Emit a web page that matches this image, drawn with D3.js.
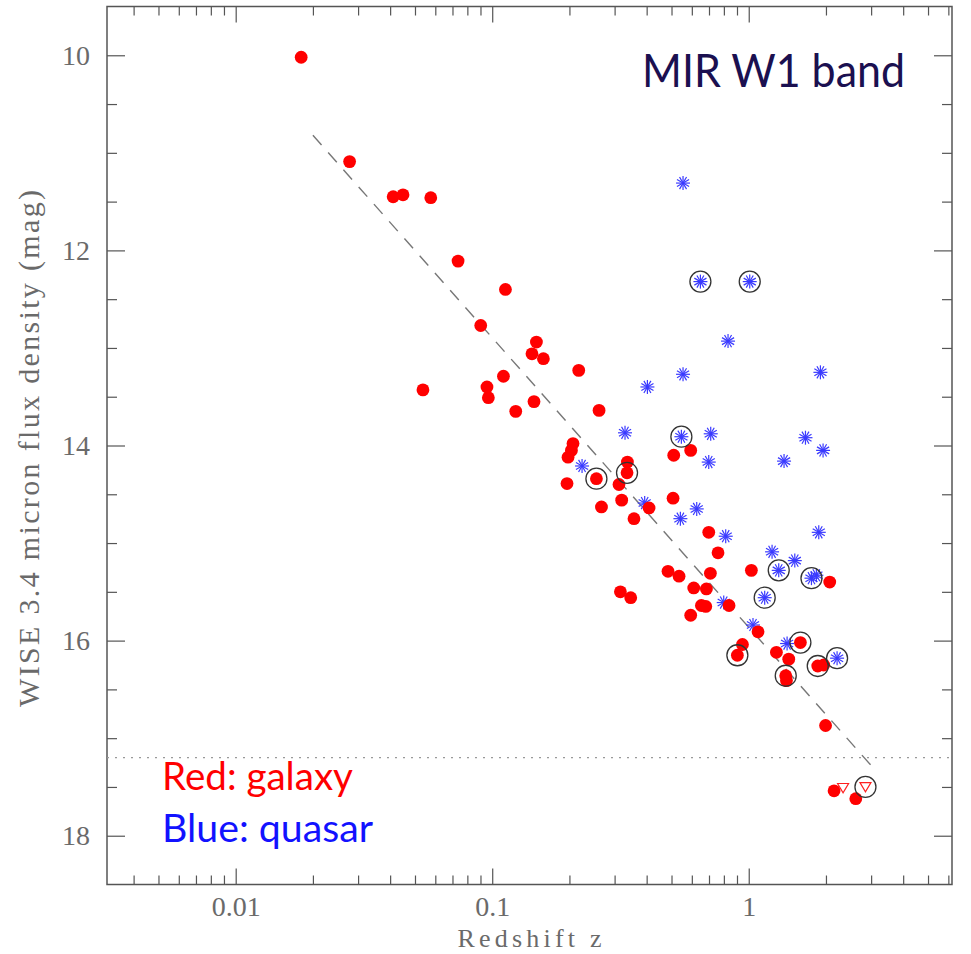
<!DOCTYPE html>
<html>
<head>
<meta charset="utf-8">
<script src="https://cdn.jsdelivr.net/npm/d3@7"></script>
<style>
  html, body { margin: 0; padding: 0; background: #fff; }
  svg { display: block; }
</style>
</head>
<body>
<svg id="chart" width="971" height="954"></svg>
<script>
// WISE W1 (3.4 micron) magnitude versus redshift for galaxies and quasars.
// Each entry: [redshift z, W1 magnitude, marked (1 = ringed source)]
const galaxies = [
  [0.0180, 10.02, 0], [0.0278, 11.09, 0], [0.0411, 11.45, 0], [0.0449, 11.43, 0],
  [0.0576, 11.46, 0], [0.0736, 12.11, 0], [0.1126, 12.40, 0], [0.0902, 12.77, 0],
  [0.1487, 12.94, 0], [0.1429, 13.06, 0], [0.1583, 13.11, 0], [0.2174, 13.23, 0],
  [0.1106, 13.29, 0], [0.0537, 13.43, 0], [0.0954, 13.40, 0], [0.0966, 13.51, 0],
  [0.1455, 13.55, 0], [0.1235, 13.65, 0], [0.2609, 13.64, 0], [0.2065, 13.98, 0],
  [0.2036, 14.05, 0], [0.1975, 14.12, 0], [0.2548, 14.34, 1], [0.1957, 14.39, 0],
  [0.3365, 14.17, 0], [0.3354, 14.28, 1], [0.3120, 14.40, 0], [0.3197, 14.56, 0],
  [0.2666, 14.63, 0], [0.3570, 14.75, 0], [0.4087, 14.64, 0], [0.3160, 15.50, 0],
  [0.3467, 15.56, 0], [0.5100, 14.10, 0], [0.5940, 14.05, 0], [0.5070, 14.54, 0],
  [0.6984, 14.89, 0], [0.7590, 15.10, 0], [0.4845, 15.29, 0], [0.5350, 15.34, 0],
  [0.7088, 15.31, 0], [1.0240, 15.28, 0], [2.0690, 15.40, 0], [0.6104, 15.46, 0],
  [0.6838, 15.47, 0], [0.6538, 15.64, 0], [0.6800, 15.65, 0], [0.5940, 15.74, 0],
  [0.8380, 15.64, 0], [1.0870, 15.91, 0], [1.5900, 16.02, 1], [0.9450, 16.04, 0],
  [0.9030, 16.15, 1], [1.2820, 16.12, 0], [1.4320, 16.19, 0], [1.3940, 16.36, 1],
  [1.4030, 16.41, 0], [1.8580, 16.26, 1], [1.9600, 16.25, 0], [1.9930, 16.87, 0],
  [2.1510, 17.54, 0], [2.6140, 17.62, 0]
];

// Galaxies below the detection limit (upper limits, open triangles)
const galaxyLimits = [
  [2.332, 17.51, 0], [2.851, 17.50, 1]
];

const quasars = [
  [0.5545, 11.31, 0], [0.6480, 12.32, 1], [1.0090, 12.32, 1], [0.8305, 12.93, 0],
  [0.5545, 13.27, 0], [0.4027, 13.40, 0], [1.9030, 13.25, 0], [0.3294, 13.87, 0],
  [0.5463, 13.91, 1], [0.7109, 13.88, 0], [0.6984, 14.17, 0], [1.6640, 13.92, 0],
  [1.9490, 14.05, 0], [1.3730, 14.16, 0], [0.2240, 14.21, 0], [0.3930, 14.59, 0],
  [0.6270, 14.65, 0], [0.5414, 14.75, 0], [0.8133, 14.93, 0], [1.8750, 14.89, 0],
  [1.2330, 15.09, 0], [1.5120, 15.18, 0], [1.3090, 15.28, 1], [1.7560, 15.36, 1],
  [1.8350, 15.33, 0], [1.1540, 15.56, 1], [0.7990, 15.61, 0], [1.0390, 15.84, 0],
  [1.4110, 16.03, 0], [2.2100, 16.18, 1]
];

// Trend line end points and the survey magnitude limit
const trendLine = [[0.02, 10.82], [3.0, 17.28]];
const magLimit = 17.2;

// Axis ticks
const xMajorTicks = [0.01, 0.1, 1];
const xTickLabels = ["0.01", "0.1", "1"];
const xMinorTicks = [0.004, 0.005, 0.006, 0.007, 0.008, 0.009,
                     0.02, 0.03, 0.04, 0.05, 0.06, 0.07, 0.08, 0.09,
                     0.2, 0.3, 0.4, 0.5, 0.6, 0.7, 0.8, 0.9,
                     2, 3, 4, 5, 6];
const yMajorTicks = [10, 12, 14, 16, 18];
const yMinorTicks = [10.5, 11, 11.5, 12.5, 13, 13.5, 14.5, 15, 15.5, 16.5, 17, 17.5];

const titleText = "MIR W1 band";
const legendText = [["Red: galaxy", "#ff0000"], ["Blue: quasar", "#1212ff"]];

// ---- layout ----
const plotLeft = 107, plotRight = 952, plotTop = 6.5, plotBottom = 884.5;
const svg = d3.select("#chart");

const x = d3.scaleLog().domain([0.00315, 6.2]).range([plotLeft, plotRight]);
const y = d3.scaleLinear().domain([9.5, 18.5]).range([plotTop, plotBottom]);

const axisColor = "#555";
const labelColor = "#6a6a6a";
const tickFont = "'Liberation Serif', 'Times New Roman', serif";

// ---- frame and ticks (ticks point inward on all four sides) ----
function tickAxis(axis, tx, ty) {
  const g = svg.append("g").attr("transform", `translate(${tx},${ty})`).call(axis);
  g.select(".domain").remove();
  g.selectAll("line").attr("stroke", axisColor).attr("stroke-width", 1.2);
  g.selectAll("text").remove();
  return g;
}
tickAxis(d3.axisBottom(x).tickValues(xMajorTicks).tickSize(-16).tickFormat(""), 0, plotBottom);
tickAxis(d3.axisBottom(x).tickValues(xMinorTicks).tickSize(-9).tickFormat(""), 0, plotBottom);
tickAxis(d3.axisTop(x).tickValues(xMajorTicks).tickSize(-16).tickFormat(""), 0, plotTop);
tickAxis(d3.axisTop(x).tickValues(xMinorTicks).tickSize(-9).tickFormat(""), 0, plotTop);
tickAxis(d3.axisLeft(y).tickValues(yMajorTicks).tickSize(-18).tickFormat(""), plotLeft, 0);
tickAxis(d3.axisLeft(y).tickValues(yMinorTicks).tickSize(-10).tickFormat(""), plotLeft, 0);
tickAxis(d3.axisRight(y).tickValues(yMajorTicks).tickSize(-18).tickFormat(""), plotRight, 0);
tickAxis(d3.axisRight(y).tickValues(yMinorTicks).tickSize(-10).tickFormat(""), plotRight, 0);

svg.append("rect")
  .attr("x", plotLeft).attr("y", plotTop)
  .attr("width", plotRight - plotLeft).attr("height", plotBottom - plotTop)
  .attr("fill", "none").attr("stroke", axisColor).attr("stroke-width", 1.5);

// ---- tick labels ----
const xLab = svg.append("g").attr("transform", `translate(0,${plotBottom})`)
  .call(d3.axisBottom(x).tickValues(xMajorTicks).tickSize(0).tickPadding(12)
    .tickFormat((d, i) => xTickLabels[i]));
xLab.select(".domain").remove();
xLab.selectAll("text").attr("font-family", tickFont).attr("font-size", 28).attr("fill", labelColor);

const yLab = svg.append("g").attr("transform", `translate(${plotLeft},0)`)
  .call(d3.axisLeft(y).tickValues(yMajorTicks).tickSize(0).tickPadding(17).tickFormat(d3.format("d")));
yLab.select(".domain").remove();
yLab.selectAll("text").attr("font-family", tickFont).attr("font-size", 28).attr("fill", labelColor);

// ---- axis titles ----
svg.append("text")
  .attr("x", (plotLeft + plotRight) / 2).attr("y", 946.5)
  .attr("text-anchor", "middle")
  .attr("font-family", tickFont).attr("font-size", 26).attr("fill", labelColor)
  .attr("textLength", 144).attr("lengthAdjust", "spacing")
  .text("Redshift z");

svg.append("text")
  .attr("transform", `translate(38.5,${(plotTop + plotBottom) / 2 + 3}) rotate(-90)`)
  .attr("text-anchor", "middle")
  .attr("font-family", tickFont).attr("font-size", 30).attr("fill", labelColor)
  .attr("textLength", 517).attr("lengthAdjust", "spacing")
  .text("WISE 3.4 micron flux density (mag)");

// ---- reference lines ----
svg.append("line")
  .attr("x1", plotLeft).attr("x2", plotRight)
  .attr("y1", y(magLimit)).attr("y2", y(magLimit))
  .attr("stroke", "#999").attr("stroke-width", 1.3).attr("stroke-dasharray", "2,6");

svg.append("path")
  .datum(trendLine)
  .attr("d", d3.line().x(d => x(d[0])).y(d => y(d[1])))
  .attr("fill", "none").attr("stroke", "#777").attr("stroke-width", 1.4)
  .attr("stroke-dasharray", "13,10");

// ---- data marks ----
const plot = svg.append("g");

// quasars: asterisks
const starRadius = 7;
const spokes = d3.range(6).map(i => i * Math.PI / 6);
const qs = plot.selectAll("g.qso").data(quasars).enter().append("g")
  .attr("class", "qso")
  .attr("transform", d => `translate(${x(d[0])},${y(d[1])})`);
qs.selectAll("line").data(spokes).enter().append("line")
  .attr("x1", a => -starRadius * Math.cos(a)).attr("y1", a => -starRadius * Math.sin(a))
  .attr("x2", a => starRadius * Math.cos(a)).attr("y2", a => starRadius * Math.sin(a))
  .attr("stroke", "#3a3aff").attr("stroke-width", 1.2);

// galaxies: filled red discs
plot.selectAll("circle.gal").data(galaxies).enter().append("circle")
  .attr("class", "gal")
  .attr("cx", d => x(d[0])).attr("cy", d => y(d[1]))
  .attr("r", 6.4).attr("fill", "#ff0000");

// upper limits: open downward triangles
const tri = 5.5;
plot.selectAll("path.lim").data(galaxyLimits).enter().append("path")
  .attr("class", "lim")
  .attr("transform", d => `translate(${x(d[0])},${y(d[1])})`)
  .attr("d", `M${-tri},${-tri * 0.8}L${tri},${-tri * 0.8}L0,${tri * 0.9}Z`)
  .attr("fill", "none").attr("stroke", "#ff2020").attr("stroke-width", 1.2);

// rings around marked sources
const marked = galaxies.concat(galaxyLimits, quasars).filter(d => d[2] === 1);
plot.selectAll("circle.ring").data(marked).enter().append("circle")
  .attr("class", "ring")
  .attr("cx", d => x(d[0])).attr("cy", d => y(d[1]))
  .attr("r", 10.5).attr("fill", "none")
  .attr("stroke", "#333").attr("stroke-width", 1.3);

// ---- annotations ----
const noteFont = "Lato, 'Open Sans', sans-serif";
svg.append("text")
  .attr("x", 642).attr("y", 87)
  .attr("font-family", noteFont).attr("font-size", 47).attr("fill", "#1b1050")
  .attr("textLength", 263).attr("lengthAdjust", "spacingAndGlyphs")
  .text(titleText);

svg.append("text")
  .attr("x", 162).attr("y", 790)
  .attr("font-family", noteFont).attr("font-size", 38).attr("fill", legendText[0][1])
  .attr("textLength", 191).attr("lengthAdjust", "spacingAndGlyphs")
  .text(legendText[0][0]);

svg.append("text")
  .attr("x", 162).attr("y", 842)
  .attr("font-family", noteFont).attr("font-size", 38).attr("fill", legendText[1][1])
  .attr("textLength", 211).attr("lengthAdjust", "spacingAndGlyphs")
  .text(legendText[1][0]);
</script>
</body>
</html>
